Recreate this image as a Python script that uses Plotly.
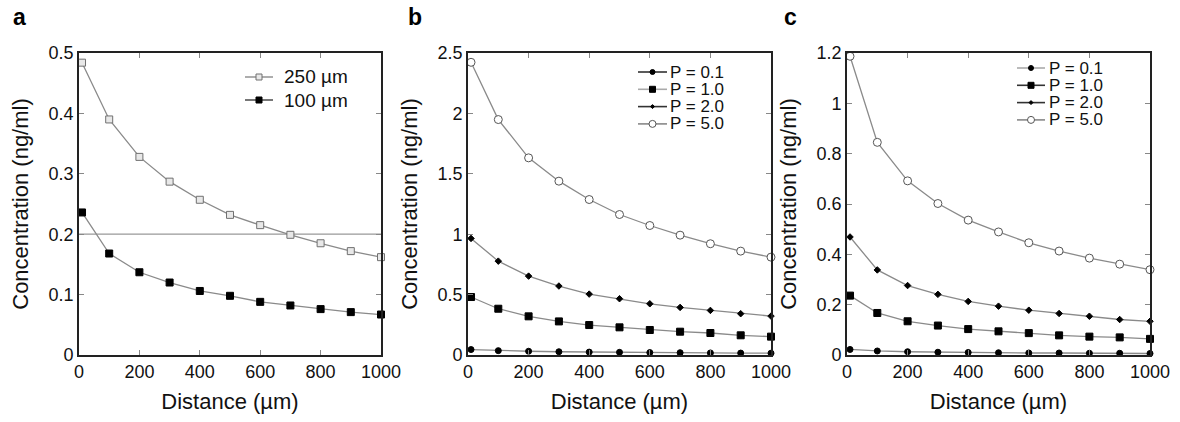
import plotly.graph_objects as go

distance = [10, 100, 200, 300, 400, 500, 600, 700, 800, 900, 1000]

# panel a
a_250 = [0.484, 0.390, 0.328, 0.287, 0.257, 0.232, 0.215, 0.199, 0.185, 0.172, 0.162]
a_100 = [0.236, 0.168, 0.137, 0.120, 0.106, 0.098, 0.088, 0.082, 0.076, 0.071, 0.067]
a_threshold = 0.2

# panel b
b_p01 = [0.045, 0.036, 0.031, 0.027, 0.024, 0.022, 0.020, 0.019, 0.017, 0.016, 0.015]
b_p10 = [0.480, 0.383, 0.320, 0.278, 0.248, 0.229, 0.207, 0.193, 0.182, 0.163, 0.152]
b_p20 = [0.965, 0.777, 0.653, 0.571, 0.504, 0.466, 0.424, 0.394, 0.369, 0.342, 0.322]
b_p50 = [2.423, 1.949, 1.632, 1.439, 1.287, 1.163, 1.072, 0.992, 0.921, 0.860, 0.810]

# panel c
c_p01 = [0.022, 0.016, 0.013, 0.011, 0.010, 0.009, 0.008, 0.008, 0.007, 0.007, 0.006]
c_p10 = [0.236, 0.167, 0.134, 0.117, 0.103, 0.094, 0.087, 0.078, 0.073, 0.070, 0.064]
c_p20 = [0.469, 0.338, 0.276, 0.241, 0.213, 0.194, 0.178, 0.165, 0.154, 0.141, 0.134]
c_p50 = [1.187, 0.845, 0.692, 0.602, 0.536, 0.489, 0.446, 0.413, 0.385, 0.361, 0.339]

a_names = ["250 \u00b5m", "100 \u00b5m"]
p_names = ["P = 0.1", "P = 1.0", "P = 2.0", "P = 5.0"]

x_ticks = [0, 200, 400, 600, 800, 1000]
a_yticks = [0, 0.1, 0.2, 0.3, 0.4, 0.5]
b_yticks = [0, 0.5, 1, 1.5, 2, 2.5]
c_yticks = [0, 0.2, 0.4, 0.6, 0.8, 1, 1.2]
a_ytext = ["0", "0.1", "0.2", "0.3", "0.4", "0.5"]
b_ytext = ["0", "0.5", "1", "1.5", "2", "2.5"]
c_ytext = ["0", "0.2", "0.4", "0.6", "0.8", "1", "1.2"]

FONT = "Liberation Sans, Arial, sans-serif"
LINE = "#8a8a8a"
W, H = 1180.0, 422.0

# marker styles: (symbol, size, fill, edge)
S_OPENSQ = ("square", 7, "#e8e8e8", "#707070")
S_SQ = ("square", 7, "black", "black")
S_DOT = ("circle", 6, "black", "black")
S_STAR = ("diamond", 5, "black", "black")
S_OPENC = ("circle", 8, "white", "#555555")

fig = go.Figure()

def add(y, name, style, xa, ya):
    sym, size, fill, edge = style
    fig.add_trace(go.Scatter(
        x=distance, y=y, name=name, mode="lines+markers", showlegend=False,
        line=dict(color=LINE, width=1.3),
        marker=dict(symbol=sym, size=size, color=fill, line=dict(color=edge, width=1)),
        xaxis=xa, yaxis=ya, cliponaxis=False))

panel_a = [(a_250, a_names[0], S_OPENSQ, "#999999"), (a_100, a_names[1], S_SQ, "#555555")]
panel_b = [(b_p01, p_names[0], S_DOT, "#333333"), (b_p10, p_names[1], S_SQ, "#aaaaaa"),
           (b_p20, p_names[2], S_STAR, "#333333"), (b_p50, p_names[3], S_OPENC, "#888888")]
panel_c = [(c_p01, p_names[0], S_DOT, "#aaaaaa"), (c_p10, p_names[1], S_SQ, "#333333"),
           (c_p20, p_names[2], S_STAR, "#333333"), (c_p50, p_names[3], S_OPENC, "#888888")]

for ser in panel_a:
    add(ser[0], ser[1], ser[2], "x", "y")
for ser in panel_b:
    add(ser[0], ser[1], ser[2], "x2", "y2")
for ser in panel_c:
    add(ser[0], ser[1], ser[2], "x3", "y3")

fig.add_shape(type="line", xref="x domain", yref="y", x0=0, x1=1,
              y0=a_threshold, y1=a_threshold, line=dict(color="#999999", width=1.2), layer="below")

annotations = []

# hand-made compact legends (layout decoration, in pixel positions)
def px(xp):
    return xp / W

def py(yp):
    return 1 - yp / H

def legend(series, x_line0, x_line1, x_text, y0, dy, fsize):
    for i, (_, name, style, lcol) in enumerate(series):
        yc = y0 + i * dy
        fig.add_shape(type="line", xref="paper", yref="paper",
                      x0=px(x_line0), x1=px(x_line1), y0=py(yc), y1=py(yc),
                      line=dict(color=lcol, width=1.6))
        sym, size, fill, edge = style
        xm = (x_line0 + x_line1) / 2
        r = size / 2.0 - 0.5
        if sym == "square":
            fig.add_shape(type="rect", xref="paper", yref="paper",
                          x0=px(xm - r), x1=px(xm + r), y0=py(yc + r), y1=py(yc - r),
                          fillcolor=fill, line=dict(color=edge, width=1))
        elif sym == "circle":
            fig.add_shape(type="circle", xref="paper", yref="paper",
                          x0=px(xm - r), x1=px(xm + r), y0=py(yc + r), y1=py(yc - r),
                          fillcolor=fill, line=dict(color=edge, width=1))
        else:
            fig.add_shape(type="path", xref="paper", yref="paper",
                          path=f"M {px(xm - r)},{py(yc)} L {px(xm)},{py(yc - r)} L {px(xm + r)},{py(yc)} L {px(xm)},{py(yc + r)} Z",
                          fillcolor=fill, line=dict(color=edge, width=1))
        annotations.append(dict(text=name, x=px(x_text), y=py(yc), xref="paper", yref="paper",
                                xanchor="left", yanchor="middle", showarrow=False,
                                font=dict(family=FONT, size=fsize, color="#111")))

legend(panel_a, 245, 273, 282, 77, 23, 19)
legend(panel_b, 638, 667, 668, 72, 17.3, 17)
legend(panel_c, 1017, 1045, 1047, 68, 17.3, 17)

ydom = [1 - 355 / H, 1 - 53 / H]
doms = [[79 / W, 381 / W], [468 / W, 771 / W], [847 / W, 1150 / W]]

def xaxis(dom, anchor):
    return dict(domain=dom, anchor=anchor, range=[0, 1000], tickvals=x_ticks, automargin=False,
                ticks="inside", ticklen=5, tickcolor="#888", mirror="allticks",
                showline=True, linecolor="#222", linewidth=1.6, showgrid=False, zeroline=False,
                tickfont=dict(family=FONT, size=18, color="#111"),
                title=dict(text="Distance (\u00b5m)", font=dict(family=FONT, size=22, color="#111"), standoff=12))

def yaxis(anchor, rng, tv, tt):
    return dict(domain=ydom, anchor=anchor, range=rng, tickvals=tv, ticktext=tt, automargin=False,
                ticks="inside", ticklen=5, tickcolor="#888", mirror="allticks",
                showline=True, linecolor="#222", linewidth=1.6, showgrid=False, zeroline=False,
                tickfont=dict(family=FONT, size=18, color="#111"),
                title=dict(text="Concentration (ng/ml)", font=dict(family=FONT, size=22, color="#111"), standoff=14))

for letter, xl in (("a", 11), ("b", 406), ("c", 782)):
    annotations.append(dict(text=f"<b>{letter}</b>", x=px(xl), y=py(2), xref="paper", yref="paper",
                            xanchor="left", yanchor="top", showarrow=False,
                            font=dict(family=FONT, size=23, color="black")))

fig.update_layout(
    width=1180, height=422, paper_bgcolor="white", plot_bgcolor="white",
    margin=dict(l=0, r=0, t=0, b=0, autoexpand=False), showlegend=False,
    xaxis=xaxis(doms[0], "y"), yaxis=yaxis("x", [0, 0.5], a_yticks, a_ytext),
    xaxis2=xaxis(doms[1], "y2"), yaxis2=yaxis("x2", [0, 2.5], b_yticks, b_ytext),
    xaxis3=xaxis(doms[2], "y3"), yaxis3=yaxis("x3", [0, 1.2], c_yticks, c_ytext),
    annotations=annotations,
)

fig.write_html("out.html", config={"displayModeBar": False},
               post_script="document.body.style.margin='0px';document.body.style.overflow='hidden';")
